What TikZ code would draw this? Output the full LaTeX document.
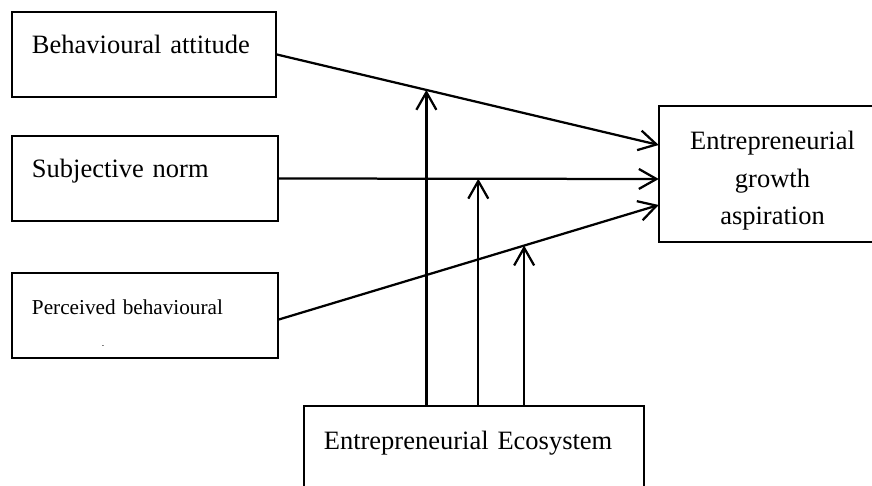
\documentclass[tikz,border=0pt]{standalone}
\usepackage{fontspec}
\setmainfont{Liberation Serif}
\usetikzlibrary{arrows.meta,calc}
\begin{document}
\begin{tikzpicture}[
  factor/.style={draw,line width=1.2pt,text width=5.6cm,inner xsep=0.5cm,inner ysep=0pt,
    minimum height=2.125cm,align=left,text height=0.4cm,text depth=0.45cm,
    font=\fontsize{18.85pt}{26.6pt}\selectfont},
  link/.style={line width=1.6pt,-{Straight Barb[length=4.4mm,width=5mm,line width=1.6pt]}}]
\useasboundingbox (0,0) rectangle (21.8,12.125);
\clip (0,0) rectangle (21.8,12.125);
\node [factor] (ba) at (3.6,10.7625) {Behavioural attitude};
\node [factor,text width=5.65cm] (sn) at (3.625,7.6625) {Subjective norm};
\node [factor,text width=5.65cm,font=\fontsize{15.1pt}{18pt}\selectfont] (pbc) at (3.625,4.2375) {Perceived behavioural};
\node [font=\tiny,inner sep=0pt] (pbcdash) at (2.575,3.45) {-};
% box runs off the right edge of the page
\node [minimum width=5.675cm,minimum height=3.4cm] (ega) at (19.3125,7.775) {};
\draw [line width=1.2pt] (ega.north east) -- (ega.north west) -- (ega.south west) -- (ega.south east);
\node [align=center,font=\fontsize{18.85pt}{26.6pt}\selectfont] (egatext) at (19.3125,7.6) {Entrepreneurial\\growth\\aspiration};
\node [draw,line width=1.2pt,anchor=north west,text width=7.5cm,inner xsep=0.5cm,inner ysep=0pt,
  minimum height=2.5cm,align=left,text height=0.4cm,text depth=0.7cm,
  font=\fontsize{18.85pt}{26.6pt}\selectfont] (eco) at (7.575,2.0) {Entrepreneurial Ecosystem};
\coordinate (inba) at ([yshift=0.725cm]ega.west);
\coordinate (insn) at ([yshift=-0.125cm]ega.west);
\coordinate (inpbc) at ([yshift=-0.775cm]ega.west);
\coordinate (outpbc) at ([yshift=-0.1cm]pbc.east);
\draw [link] (ba.east) -- (inba);
\draw [link] (sn.east) -- (insn);
\draw [link] (outpbc) -- (inpbc);
\coordinate (mba) at ($(ba.east)!0.3916!(inba)$);
\coordinate (msn) at ($(sn.east)!0.525!(insn)$);
\coordinate (mpbc) at ($(outpbc)!0.6457!(inpbc)$);
\draw [link] (eco.north -| mba) -- (mba);
\draw [link] (eco.north -| msn) -- (msn);
\draw [link] (eco.north -| mpbc) -- (mpbc);
\end{tikzpicture}
\end{document}
